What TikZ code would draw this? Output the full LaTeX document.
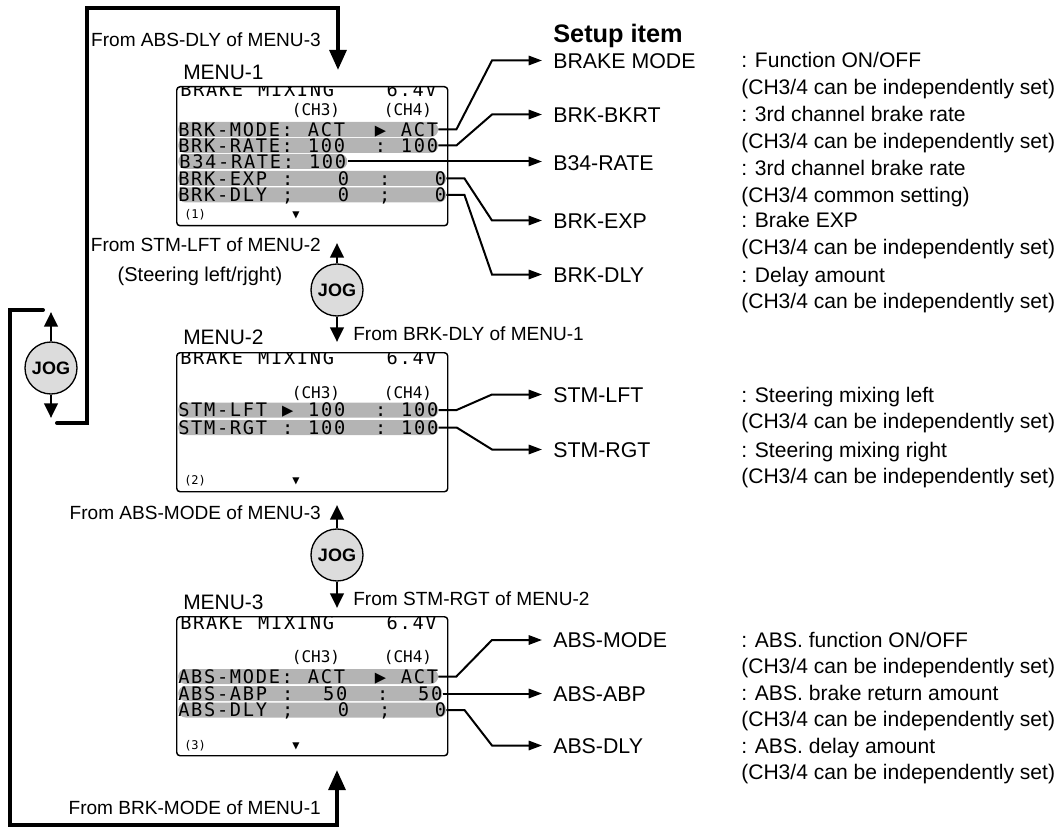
\documentclass[tikz,border=0pt]{standalone}
\usepackage{fontspec}
\setmainfont{Liberation Sans}
\newfontfamily\lcdfont[LetterSpace=9.1,WordSpace=1.152]{DejaVu Sans Mono}
\newfontfamily\lcdplain{DejaVu Sans Mono}
\usepackage{xcolor}
\usepackage{tikz}
\usetikzlibrary{arrows.meta,positioning}
\definecolor{lcdgray}{HTML}{B4B4B4}
\definecolor{joggray}{HTML}{DCDCDC}
\newcommand{\lcdsize}{\lcdfont\fontsize{14}{15}\selectfont}
\tikzset{
  screen/.style={draw=black,line width=1.1pt,rounded corners=2.5pt,anchor=north west,inner sep=0pt,minimum width=203.25pt,minimum height=104.25pt},
  lcdbar/.style={fill=lcdgray,rounded corners=5.5pt,anchor=west,inner sep=0pt,minimum width=194.25pt,minimum height=11.25pt,text height=9.8pt,text depth=0pt,font=\lcdsize},
  lcdtext/.style={inner sep=0pt,text height=9.8pt,text depth=0pt,font=\lcdsize},
  lcdhead/.style={inner sep=0pt,text height=8.2pt,text depth=0pt,font=\lcdplain\fontsize{12}{13}\selectfont},
  lcdsmall/.style={inner sep=0pt,font=\lcdplain\fontsize{9}{10}\selectfont},
  menulabel/.style={anchor=west,inner sep=0pt,text height=11.2pt,text depth=0pt,font=\fontsize{15.7}{18}\selectfont},
  fromlabel/.style={inner sep=0pt,text height=10.2pt,text depth=0pt,font=\fontsize{14.3}{17}\selectfont},
  itemlabel/.style={anchor=west,inner xsep=8.25pt,inner ysep=0pt,text height=11.4pt,text depth=0pt,font=\fontsize{16}{18}\selectfont},
  desclabel/.style={anchor=base west,inner sep=0pt,align=left,font=\fontsize{15.8}{20.1}\selectfont},
  jogbtn/.style={circle,draw=black,line width=1pt,fill=joggray,minimum size=39pt,inner sep=0pt,font=\bfseries\fontsize{13.5}{15}\selectfont},
  looppath/.style={line width=3pt,line cap=round,line join=miter,-{Triangle[length=15pt,width=12.5pt]}},
  jogarrow/.style={-{Triangle[length=11pt,width=10pt]},line width=2.2pt},
  linkarrow/.style={-{Triangle[length=10pt,width=7pt]},line width=1.5pt,line join=miter},
}
\begin{document}
\begin{tikzpicture}[x=0.75pt,y=-0.75pt]
  \useasboundingbox (0,0) rectangle (1063,827);

  % MENU-1
  \node[menulabel] (menuA) at (183,72.5) {MENU-1};
  \node[screen] (scrA) at (176,86) {};
  \begin{scope}
    \clip[rounded corners=2.5pt] (scrA.north west) rectangle (scrA.south east);
    \node[lcdtext,anchor=west] (m1top) at (180,90) {BRAKE~MIXING};
    \node[lcdtext,anchor=east] (m1volt) at (437,90) {6.4V};
    \node[lcdhead] (m1ch3) at (316,110) {(CH3)};
    \node[lcdhead] (m1ch4) at (408,110) {(CH4)};
    \node[lcdbar] (m1r1) at (178,129.5) {BRK-MODE:~ACT~~▶~ACT};
    \node[lcdbar] (m1r2) at (178,145.5) {BRK-RATE:~100~~:~100};
    \node[lcdbar,minimum width=126.75pt] (m1r3) at (178,161.5) {B34-RATE:~100};
    \node[lcdbar] (m1r4) at (178,178.5) {BRK-EXP~:~~~0~~:~~~0};
    \node[lcdbar] (m1r5) at (178,195) {BRK-DLY~;~~~0~~;~~~0};
    \node[lcdsmall,anchor=west] (m1num) at (184,215) {(1)};
    \node[lcdsmall] (m1down) at (296,215) {▼};
  \end{scope}

  % MENU-2
  \node[menulabel] (menuB) at (183,337) {MENU-2};
  \node[screen] (scrB) at (176,352) {};
  \begin{scope}
    \clip[rounded corners=2.5pt] (scrB.north west) rectangle (scrB.south east);
    \node[lcdtext,anchor=west] (m2top) at (180,358) {BRAKE~MIXING};
    \node[lcdtext,anchor=east] (m2volt) at (437,358) {6.4V};
    \node[lcdhead] (m2ch3) at (316,393.5) {(CH3)};
    \node[lcdhead] (m2ch4) at (408,393.5) {(CH4)};
    \node[lcdbar] (m2r1) at (178,410) {STM-LFT~▶~100~~:~100};
    \node[lcdbar] (m2r2) at (178,427.5) {STM-RGT~:~100~~:~100};
    \node[lcdsmall,anchor=west] (m2num) at (184,481) {(2)};
    \node[lcdsmall] (m2down) at (296,481) {▼};
  \end{scope}

  % MENU-3
  \node[menulabel] (menuC) at (183,602.5) {MENU-3};
  \node[screen] (scrC) at (176,616) {};
  \begin{scope}
    \clip[rounded corners=2.5pt] (scrC.north west) rectangle (scrC.south east);
    \node[lcdtext,anchor=west] (m3top) at (180,623) {BRAKE~MIXING};
    \node[lcdtext,anchor=east] (m3volt) at (437,623) {6.4V};
    \node[lcdhead] (m3ch3) at (316,657) {(CH3)};
    \node[lcdhead] (m3ch4) at (408,657) {(CH4)};
    \node[lcdbar] (m3r1) at (178,676.5) {ABS-MODE:~ACT~~▶~ACT};
    \node[lcdbar] (m3r2) at (178,693.5) {ABS-ABP~:~~50~~:~~50};
    \node[lcdbar] (m3r3) at (178,710) {ABS-DLY~;~~~0~~;~~~0};
    \node[lcdsmall,anchor=west] (m3num) at (184,746) {(3)};
    \node[lcdsmall] (m3down) at (296,746) {▼};
  \end{scope}

  % setup items
  \node[anchor=west,inner sep=0pt,text height=13.6pt,text depth=0pt,font=\bfseries\fontsize{19}{22}\selectfont] (setuphead) at (553,33.5) {Setup item};
  \node[itemlabel] (it1) at (542,60.5) {BRAKE MODE};
  \node[itemlabel] (it2) at (542,114.5) {BRK-BKRT};
  \node[itemlabel] (it3) at (542,162.5) {B34-RATE};
  \node[itemlabel] (it4) at (542,220.5) {BRK-EXP};
  \node[itemlabel] (it5) at (542,274.5) {BRK-DLY};
  \node[itemlabel] (it6) at (542,394.5) {STM-LFT};
  \node[itemlabel] (it7) at (542,449.5) {STM-RGT};
  \node[itemlabel] (it8) at (542,640) {ABS-MODE};
  \node[itemlabel] (it9) at (542,693.5) {ABS-ABP};
  \node[itemlabel] (it10) at (542,745.5) {ABS-DLY};

  \draw[linkarrow] (m1r1.east) -- ++(18,0) -- ([xshift=-37.5pt]it1.west) -- (it1.west);
  \draw[linkarrow] (m1r2.east) -- ++(18,0) -- ([xshift=-37.5pt]it2.west) -- (it2.west);
  \draw[linkarrow] (m1r3.east) -- (m1r3.east -| it3.west);
  \draw[linkarrow] (m1r4.east) -- ++(18,0) -- ([xshift=-37.5pt]it4.west) -- (it4.west);
  \draw[linkarrow] (m1r5.east) -- ++(18,0) -- ([xshift=-37.5pt]it5.west) -- (it5.west);
  \draw[linkarrow] (m2r1.east) -- ++(18,0) -- ([xshift=-37.5pt]it6.west) -- (it6.west);
  \draw[linkarrow] (m2r2.east) -- ++(18,0) -- ([xshift=-37.5pt]it7.west) -- (it7.west);
  \draw[linkarrow] (m3r1.east) -- ++(18,0) -- ([xshift=-37.5pt]it8.west) -- (it8.west);
  \draw[linkarrow] (m3r2.east) -- (m3r2.east -| it9.west);
  \draw[linkarrow] (m3r3.east) -- ++(18,0) -- ([xshift=-37.5pt]it10.west) -- (it10.west);

  % descriptions (base is the second line)
  \node[desclabel] (d1) at (741,94.8) {: Function ON/OFF\\(CH3/4 can be independently set)};
  \node[desclabel] (d2) at (741,148.8) {: 3rd channel brake rate\\(CH3/4 can be independently set)};
  \node[desclabel] (d3) at (741,202.3) {: 3rd channel brake rate\\(CH3/4 common setting)};
  \node[desclabel] (d4) at (741,254.8) {: Brake EXP\\(CH3/4 can be independently set)};
  \node[desclabel] (d5) at (741,308.8) {: Delay amount\\(CH3/4 can be independently set)};
  \node[desclabel] (d6) at (741,428.8) {: Steering mixing left\\(CH3/4 can be independently set)};
  \node[desclabel] (d7) at (741,483.8) {: Steering mixing right\\(CH3/4 can be independently set)};
  \node[desclabel] (d8) at (741,673.8) {: ABS. function ON/OFF\\(CH3/4 can be independently set)};
  \node[desclabel] (d9) at (741,726.8) {: ABS. brake return amount\\(CH3/4 can be independently set)};
  \node[desclabel] (d10) at (741,779.8) {: ABS. delay amount\\(CH3/4 can be independently set)};

  % jog buttons
  \node[jogbtn] (jogL) at (51,368) {JOG};
  \node[jogbtn] (jogA) at (337,290) {JOG};
  \node[jogbtn] (jogB) at (337,555) {JOG};
  \coordinate (jogLup) at (51,312);
  \coordinate (jogLdown) at (51,418);
  \coordinate (jogAup) at (337,243);
  \coordinate (jogAdown) at (337,342);
  \coordinate (jogBup) at (337,505);
  \coordinate (jogBdown) at (337,608);
  \draw[jogarrow] (jogL.north) -- (jogLup);
  \draw[jogarrow] (jogL.south) -- (jogLdown);
  \draw[jogarrow] (jogA.north) -- (jogAup);
  \draw[jogarrow] (jogA.south) -- (jogAdown);
  \draw[jogarrow] (jogB.north) -- (jogBup);
  \draw[jogarrow] (jogB.south) -- (jogBdown);

  % loops
  \coordinate (topstart) at (57,423);
  \coordinate (topend) at (338,70);
  \coordinate (botstart) at (43,310);
  \coordinate (botend) at (337,770);
  \draw[looppath] (topstart) -- (87,423) -- (87,8) -- (338,8) -- (topend);
  \draw[looppath] (botstart) -- (10,310) -- (10,825) -- (337,825) -- (botend);

  % from labels
  \node[fromlabel,anchor=east] (fromA) at (321,40) {From ABS-DLY of MENU-3};
  \node[fromlabel,anchor=east] (fromB) at (321,245) {From STM-LFT of MENU-2};
  \node[fromlabel,anchor=center,font=\fontsize{15}{17}\selectfont] (steer) at (200,275) {(Steering left/rjght)};
  \node[fromlabel,anchor=west] (fromC) at (353,333.5) {From BRK-DLY of MENU-1};
  \node[fromlabel,anchor=east] (fromD) at (321,512.5) {From ABS-MODE of MENU-3};
  \node[fromlabel,anchor=west] (fromE) at (353,599) {From STM-RGT of MENU-2};
  \node[fromlabel,anchor=east] (fromF) at (321,807.5) {From BRK-MODE of MENU-1};
\end{tikzpicture}
\end{document}
